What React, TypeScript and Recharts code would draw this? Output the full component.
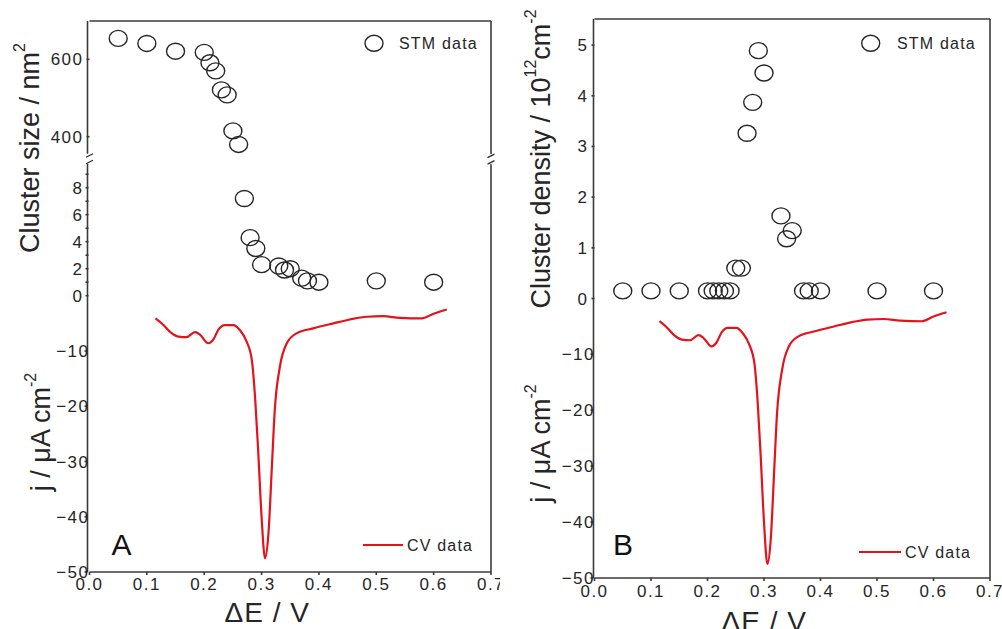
import React from 'react';
import { ComposedChart, Scatter, Line, XAxis, YAxis, ReferenceDot, Legend } from 'recharts';

// potential at which each STM image was taken, V
const stmPotential = [0.05, 0.1, 0.15, 0.2, 0.21, 0.22, 0.23, 0.24, 0.25, 0.26, 0.27, 0.28, 0.29, 0.3, 0.33, 0.34, 0.35, 0.37, 0.38, 0.4, 0.5, 0.6];
// panel A: cluster size, nm^2
const clusterSize = [654, 641, 621, 618, 591, 570, 521, 508, 415, 380, 7.2, 4.3, 3.5, 2.3, 2.2, 1.9, 2.0, 1.3, 1.1, 1.0, 1.1, 1.0];
// panel B: cluster density, 10^12 cm^-2
const clusterDensity = [0.15, 0.15, 0.15, 0.15, 0.15, 0.15, 0.15, 0.15, 0.6, 0.6, 3.26, 3.87, 4.89, 4.45, 1.63, 1.18, 1.34, 0.15, 0.15, 0.15, 0.15, 0.15];

// CV trace (same in both panels)
const cvPotential = [0.115, 0.129, 0.14, 0.155, 0.169, 0.184, 0.193, 0.207, 0.216, 0.225, 0.236, 0.251, 0.262, 0.274, 0.283, 0.289, 0.294, 0.3, 0.306, 0.312, 0.318, 0.323, 0.332, 0.344, 0.361, 0.39, 0.425, 0.454, 0.483, 0.512, 0.541, 0.579, 0.599, 0.623];
const cvCurrent = [-4.1, -5.3, -6.5, -7.4, -7.5, -6.6, -7.1, -8.6, -7.9, -6.1, -5.3, -5.3, -6.2, -8.3, -11.6, -18.9, -27.9, -40, -47.5, -43, -30.9, -20.7, -12.8, -8.6, -6.8, -5.9, -5.0, -4.3, -3.8, -3.7, -4.0, -4.1, -3.3, -2.5];

const potentialTicks = [0, 0.1, 0.2, 0.3, 0.4, 0.5, 0.6, 0.7];
const bigSizeTicks = [400, 600];
const smallSizeTicks = [0, 1, 2, 3, 4, 5, 6, 7, 8, 9];
const densityTicks = [0, 1, 2, 3, 4, 5];
const currentTicks = [-50, -40, -30, -20, -10];

const SIZE_BREAK = 300; // sizes above this sit on the upper (broken) axis

const cvData = cvPotential.map((x, i) => ({ x, y: cvCurrent[i] }));
const sizeData = stmPotential.map((x, i) => ({ x, y: clusterSize[i] }));
const sizeHigh = sizeData.filter((d) => d.y >= SIZE_BREAK);
const sizeLow = sizeData.filter((d) => d.y < SIZE_BREAK);
const densityData = stmPotential.map((x, i) => ({ x, y: clusterDensity[i] }));

const FONT = "'Liberation Sans', Arial, sans-serif";
const INK = '#262626';
const RED = '#e3131b';

const frameLine = { stroke: '#3a3a3a', strokeWidth: 1.6 };

const fmtX = (v: number) => v.toFixed(1);
const fmtEven = (v: number) => (v % 2 === 0 ? String(v) : '');
const fmtSigned = (v: number) => (v < 0 ? '\u2212' + Math.abs(v) : String(v));

const xTick = (props: any) => (
  <text x={props.x} y={props.y} dy="0.71em" textAnchor="middle" fontSize={17} fontFamily={FONT} fill={INK} letterSpacing={1.5}>
    {fmtX(props.payload.value)}
  </text>
);

const yTick = (fmt: (v: number) => string, shift = 0) => (props: any) => (
  <text x={props.x + shift} y={props.y} dy="0.355em" textAnchor="end" fontSize={17} fontFamily={FONT} fill={INK} letterSpacing={1.5}>
    {fmt(props.payload.value)}
  </text>
);

const Ring = (props: any) => (
  <ellipse cx={props.cx} cy={props.cy} rx={9} ry={8} fill="none" stroke={INK} strokeWidth={1.4} />
);

// little "//" axis break drawn over the frame
const BreakMark = (props: any) => {
  const { cx, cy } = props;
  return (
    <g>
      <rect x={cx - 4} y={cy - 5} width={8} height={10} fill="#fff" />
      <line x1={cx - 3.5} y1={cy - 1.5} x2={cx + 3.5} y2={cy - 5} stroke={INK} strokeWidth={1.2} />
      <line x1={cx - 3.5} y1={cy + 5} x2={cx + 3.5} y2={cy + 1.5} stroke={INK} strokeWidth={1.2} />
    </g>
  );
};

function RotTitle({ cx, cy, children }: { cx: number; cy: number; children: React.ReactNode }) {
  return (
    <text
      x={cx}
      y={cy}
      transform={`rotate(-90 ${cx} ${cy})`}
      textAnchor="middle"
      dominantBaseline="central"
      fontSize={27}
      fontFamily={FONT}
      fill={INK}
    >
      {children}
    </text>
  );
}

const Sup = ({ children }: { children: React.ReactNode }) => (
  <tspan dy={-11} fontSize={16}>{children}</tspan>
);
const Back = ({ children }: { children: React.ReactNode }) => (
  <tspan dy={11} fontSize={27}>{children}</tspan>
);

const xTitle = (dx: number, dy: number) => (p: any) => {
  const vb = p.viewBox;
  return (
    <text
      x={vb.x + vb.width / 2 + dx}
      y={vb.y + dy}
      textAnchor="middle"
      dominantBaseline="central"
      fontSize={28}
      fontFamily={FONT}
      fill={INK}
      letterSpacing={1}
    >
      ΔE / V
    </text>
  );
};

function LegendLayer({ w, h, ring, stmX, stmY, lineX, lineY, cvX, cvY, letter, letterX }: any) {
  return (
    <svg width={w} height={h} style={{ position: 'absolute', left: 0, top: 0 }}>
      <ellipse cx={ring[0]} cy={ring[1]} rx={9} ry={8} fill="none" stroke={INK} strokeWidth={1.4} />
      <text x={stmX} y={stmY} fontSize={16} fontFamily={FONT} fill={INK} letterSpacing={1.2}>STM data</text>
      <line x1={lineX[0]} x2={lineX[1]} y1={lineY} y2={lineY} stroke={RED} strokeWidth={2.2} />
      <text x={cvX} y={cvY} fontSize={16} fontFamily={FONT} fill={INK} letterSpacing={1.2}>CV data</text>
      <text x={letterX} y={555} fontSize={30} fontFamily={FONT} fill="#111">{letter}</text>
    </svg>
  );
}

// y axes are laid out in id order: the 1px-wide ones first (next to the plot), the wide one last
function PanelA() {
  const W = 500;
  const H = 629;
  return (
    <ComposedChart width={W} height={H} margin={{ top: 20, right: 8, bottom: 27, left: 32.5 }}>
      <XAxis
        xAxisId="x"
        dataKey="x"
        type="number"
        domain={[0, 0.7]}
        ticks={potentialTicks}
        interval={0}
        height={30}
        tick={xTick}
        tickSize={3}
        tickMargin={3}
        axisLine={frameLine}
        tickLine={frameLine}
        label={{ content: xTitle(-23, 40.5) }}
      />
      <XAxis xAxisId="top" orientation="top" type="number" domain={[0, 0.7]} height={1} tick={false} tickLine={false} axisLine={frameLine} />
      <YAxis yAxisId="a_size" type="number" width={1} domain={[-725, 699]} ticks={bigSizeTicks} interval={0} tick={yTick(fmtSigned)} tickSize={3} tickMargin={3} axisLine={false} tickLine={frameLine} />
      <YAxis yAxisId="b_small" type="number" width={1} domain={[-20.47, 20.35]} ticks={smallSizeTicks} interval={0} tick={yTick(fmtEven, 1)} tickSize={3} tickMargin={3} axisLine={false} tickLine={frameLine} />
      <YAxis
        yAxisId="z_cv"
        type="number"
        width={55}
        domain={[-50, 49.73]}
        ticks={currentTicks}
        interval={0}
        tick={yTick(fmtSigned, 1)}
        tickSize={3}
        tickMargin={-4}
        axisLine={frameLine}
        tickLine={frameLine}
        label={{
          content: () => (
            <g>
              <RotTitle cx={29.6} cy={148}>
                Cluster size / nm<Sup>2</Sup>
              </RotTitle>
              <RotTitle cx={40.6} cy={432}>
                j / μA cm<Sup>-2</Sup>
              </RotTitle>
            </g>
          ),
        }}
      />
      <YAxis yAxisId="frame" orientation="right" type="number" width={1} domain={[0, 1]} tick={false} tickLine={false} axisLine={frameLine} />
      <Line xAxisId="x" yAxisId="z_cv" data={cvData} dataKey="y" type="monotone" stroke={RED} strokeWidth={2.2} dot={false} isAnimationActive={false} />
      <Scatter xAxisId="x" yAxisId="a_size" data={sizeHigh} dataKey="y" shape={Ring} isAnimationActive={false} />
      <Scatter xAxisId="x" yAxisId="b_small" data={sizeLow} dataKey="y" shape={Ring} isAnimationActive={false} />
      <ReferenceDot xAxisId="x" yAxisId="a_size" x={0} y={343} shape={BreakMark} ifOverflow="visible" />
      <ReferenceDot xAxisId="x" yAxisId="a_size" x={0.7} y={342} shape={BreakMark} ifOverflow="visible" />
      <Legend
        layout="vertical"
        align="center"
        verticalAlign="middle"
        wrapperStyle={{ left: 0, top: 0, width: W, height: H, pointerEvents: 'none' }}
        content={() => (
          <LegendLayer w={W} h={H} ring={[374, 43.3]} stmX={399} stmY={49.3} lineX={[363, 403]} lineY={545} cvX={407} cvY={551} letter="A" letterX={111.5} />
        )}
      />
    </ComposedChart>
  );
}

function PanelB() {
  const W = 502;
  const H = 629;
  return (
    <ComposedChart width={W} height={H} margin={{ top: 18, right: 11, bottom: 21, left: 38.5 }}>
      <XAxis
        xAxisId="x"
        dataKey="x"
        type="number"
        domain={[0, 0.7]}
        ticks={potentialTicks}
        interval={0}
        height={30}
        tick={xTick}
        tickSize={3}
        tickMargin={4}
        axisLine={frameLine}
        tickLine={frameLine}
        label={{ content: xTitle(-28, 43) }}
      />
      <XAxis xAxisId="top" orientation="top" type="number" domain={[0, 0.7]} height={1} tick={false} tickLine={false} axisLine={frameLine} />
      <YAxis yAxisId="a_density" type="number" width={1} domain={[-5.515, 5.515]} ticks={densityTicks} interval={0} tick={yTick(fmtSigned)} tickSize={3} tickMargin={3} axisLine={false} tickLine={frameLine} />
      <YAxis
        yAxisId="z_cv"
        type="number"
        width={55}
        domain={[-50, 49.93]}
        ticks={currentTicks}
        interval={0}
        tick={yTick(fmtSigned, 0.5)}
        tickSize={3}
        tickMargin={-4}
        axisLine={frameLine}
        tickLine={frameLine}
        label={{
          content: () => (
            <g>
              <RotTitle cx={40.6} cy={159}>
                Cluster density / 10<Sup>12</Sup><Back>cm</Back><Sup>-2</Sup>
              </RotTitle>
              <RotTitle cx={40.6} cy={443.5}>
                j / μA cm<Sup>-2</Sup>
              </RotTitle>
            </g>
          ),
        }}
      />
      <YAxis yAxisId="frame" orientation="right" type="number" width={1} domain={[0, 1]} tick={false} tickLine={false} axisLine={frameLine} />
      <Line xAxisId="x" yAxisId="z_cv" data={cvData} dataKey="y" type="monotone" stroke={RED} strokeWidth={2.2} dot={false} isAnimationActive={false} />
      <Scatter xAxisId="x" yAxisId="a_density" data={densityData} dataKey="y" shape={Ring} isAnimationActive={false} />
      <Legend
        layout="vertical"
        align="center"
        verticalAlign="middle"
        wrapperStyle={{ left: 0, top: 0, width: W, height: H, pointerEvents: 'none' }}
        content={() => (
          <LegendLayer w={W} h={H} ring={[370.7, 43.3]} stmX={397} stmY={49.3} lineX={[359, 401]} lineY={552} cvX={405} cvY={558} letter="B" letterX={113} />
        )}
      />
    </ComposedChart>
  );
}

export default function App() {
  return (
    <div style={{ position: 'absolute', left: 0, top: 0, width: 1002, height: 629, background: '#fff', overflow: 'hidden' }}>
      <div style={{ position: 'absolute', left: 0, top: 0 }}>
        <PanelA />
      </div>
      <div style={{ position: 'absolute', left: 500, top: 0 }}>
        <PanelB />
      </div>
    </div>
  );
}
